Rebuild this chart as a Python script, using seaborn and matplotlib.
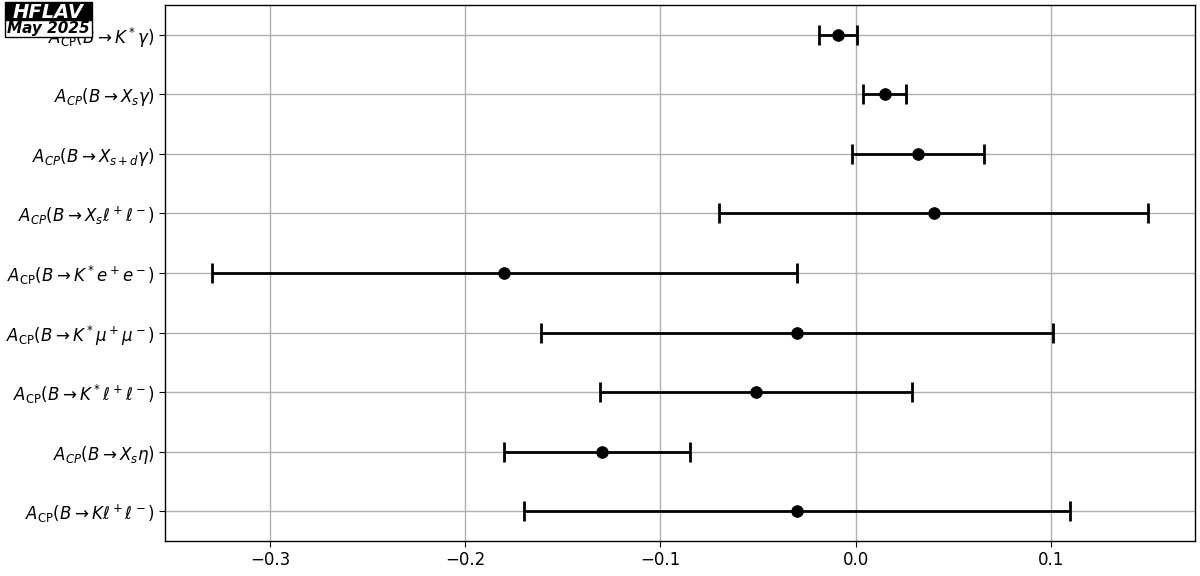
import matplotlib
matplotlib.use("Agg")
import matplotlib.pyplot as plt
from matplotlib.patches import Rectangle
import numpy as np
import pandas as pd
import seaborn as sns

labels = [
    r'$A_{\rm CP}(B \to K^* \gamma)$',
    r'$A_{CP}(B \to X_s \gamma)$',
    r'$A_{CP}(B \to X_{s+d} \gamma)$',
    r'$A_{CP}(B \to X_s \ell^+ \ell^-)$',
    r'$A_{\rm CP}(B \to K^* e^+ e^-)$',
    r'$A_{\rm CP}(B \to K^* \mu^+ \mu^-)$',
    r'$A_{\rm CP}(B \to K^* \ell^+ \ell^-)$',
    r'$A_{CP}(B \to X_s \eta)$',
    r'$A_{\rm CP}(B \to K \ell^+ \ell^-)$',
]
values = [-0.009, 0.015, 0.032, 0.040, -0.180, -0.030, -0.051, -0.130, -0.030]
err_low = [0.0097, 0.011, 0.034, 0.110, 0.150, 0.131, 0.080, 0.050, 0.140]
err_high = [0.0097, 0.011, 0.034, 0.110, 0.150, 0.131, 0.080, 0.045, 0.140]

df = pd.DataFrame({'label': labels, 'value': values,
                   'lo': err_low, 'hi': err_high})
df['pos'] = np.arange(len(df))

sns.set_style('ticks')
plt.rcParams['font.family'] = ['DejaVu Sans']
plt.rcParams['text.color'] = 'black'
plt.rcParams['xtick.color'] = 'black'
plt.rcParams['ytick.color'] = 'black'
plt.rcParams['axes.labelcolor'] = 'black'

fig, ax = plt.subplots(figsize=(12, 5.76), dpi=100)
fig.subplots_adjust(left=0.1375, right=0.9958, top=0.9913, bottom=0.0608)

ax.errorbar(df['value'], df['pos'], xerr=[df['lo'], df['hi']], fmt='none',
            ecolor='black', elinewidth=2, capsize=7, capthick=2, zorder=3)
sns.scatterplot(data=df, x='value', y='pos', color='black', s=70,
                edgecolor='black', zorder=4, ax=ax)

ax.set_yticks(df['pos'])
ax.set_yticklabels(df['label'])
ax.set_ylim(len(df) - 0.5, -0.5)
ax.set_xlabel('')
ax.set_ylabel('')
ax.grid(True, color='#b0b0b0', linewidth=1)
ax.set_axisbelow(True)
ax.tick_params(axis='both', labelsize=12, direction='out', length=4,
               colors='black')
for sp in ax.spines.values():
    sp.set_visible(True)
    sp.set_color('black')
    sp.set_linewidth(1)

# HFLAV logo
fig.patches.append(Rectangle((5 / 1200, 1 - 20 / 576), 87 / 1200, 18 / 576,
                             transform=fig.transFigure, facecolor='black',
                             edgecolor='black', linewidth=1, zorder=5))
fig.patches.append(Rectangle((5 / 1200, 1 - 37 / 576), 87 / 1200, 17 / 576,
                             transform=fig.transFigure, facecolor='white',
                             edgecolor='black', linewidth=1, zorder=5))
fig.text(48.5 / 1200, 1 - 18 / 576, 'HFLAV', ha='center', va='baseline',
         fontsize=14, fontweight='bold', fontstyle='italic', color='white',
         zorder=6)
fig.text(48.5 / 1200, 1 - 33 / 576, 'May 2025', ha='center', va='baseline',
         fontsize=11, fontweight='bold', fontstyle='italic', color='black',
         zorder=6)

fig.savefig('out.png', dpi=100)
